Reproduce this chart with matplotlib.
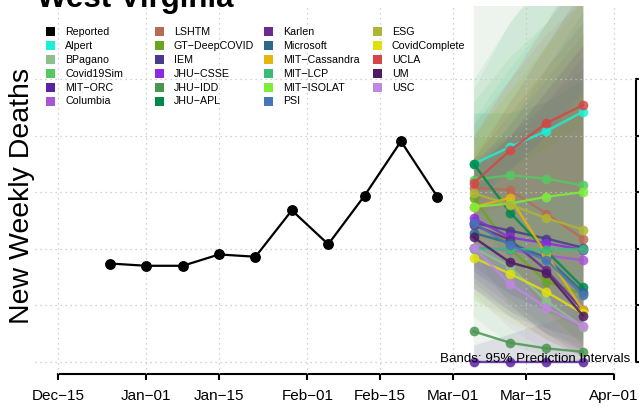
import numpy as np
import matplotlib
matplotlib.use('Agg')
import matplotlib.pyplot as plt
import matplotlib.dates as mdates
from matplotlib.patches import Rectangle

plt.rcParams['font.family'] = ['Liberation Sans', 'DejaVu Sans']

# reported weekly deaths
rep_dates = np.array(['2021-12-25', '2022-01-01', '2022-01-08', '2022-01-15', '2022-01-22',
                      '2022-01-29', '2022-02-05', '2022-02-12', '2022-02-19', '2022-02-26'],
                     dtype='datetime64[D]')
rep_vals = [87, 85, 85, 95, 93, 134, 104, 147, 195, 146]

fc_dates = np.array(['2022-03-05', '2022-03-12', '2022-03-19', '2022-03-26'], dtype='datetime64[D]')

models = ['Alpert', 'BPagano', 'Covid19Sim', 'MIT\u2212ORC', 'Columbia', 'LSHTM',
          'GT\u2212DeepCOVID', 'IEM', 'JHU\u2212CSSE', 'JHU\u2212IDD', 'JHU\u2212APL', 'Karlen',
          'Microsoft', 'MIT\u2212Cassandra', 'MIT\u2212LCP', 'MIT\u2212ISOLAT', 'PSI', 'ESG',
          'CovidComplete', 'UCLA', 'UM', 'USC']
colors = ['#1cefd8', '#8fbf8f', '#55c95f', '#5b22a0', '#a855d6', '#b96a55',
          '#6aa51e', '#483a8a', '#8a2be2', '#4a9650', '#00884a', '#6a2a8e',
          '#2a6a88', '#e6b50e', '#3cba78', '#7ded3c', '#4a74b8', '#b0b535',
          '#e0e010', '#d64545', '#4e1a66', '#c088e0']

# point forecasts (same order as models)
fc_point = [
    [175, 190, 204, 221],  # Alpert
    [101, 84, 54, 31],     # BPagano
    [161, 165, 162, 156],  # Covid19Sim
    [0, 0, 0, 0],          # MIT-ORC
    [101, 99, 94, 90],     # Columbia
    [154, 152, 131, 109],  # LSHTM
    [145, 100, 71, 60],    # GT-DeepCOVID
    [123, 116, 109, 101],  # IEM
    [127, 110, 105, 99],   # JHU-CSSE
    [27, 17, 12, 9],       # JHU-IDD
    [175, 132, 98, 66],    # JHU-APL
    [121, 108, 81, 46],    # Karlen
    [114, 105, 92, 62],    # Microsoft
    [137, 145, 95, 46],    # MIT-Cassandra
    [100, 100, 99, 100],   # MIT-LCP
    [137, 140, 146, 150],  # MIT-ISOLAT
    [123, 103, 90, 59],    # PSI
    [149, 139, 127, 117],  # ESG
    [92, 78, 62, 43],      # CovidComplete
    [158, 187, 211, 227],  # UCLA
    [110, 88, 79, 41],     # UM
    [101, 69, 48, 32],     # USC
]
# 95% interval bounds
fc_lower = [
    [150, 140, 130, 120], [40, 15, 5, 0], [115, 95, 75, 60], [0, 0, 0, 0],
    [65, 45, 30, 20], [110, 85, 60, 40], [95, 50, 25, 15], [80, 60, 45, 30],
    [85, 60, 45, 35], [0, 0, 0, 0], [135, 85, 45, 15], [75, 50, 25, 5],
    [70, 45, 25, 10], [105, 90, 40, 10], [55, 40, 30, 20], [90, 80, 70, 60],
    [80, 55, 30, 10], [110, 85, 60, 40], [55, 35, 20, 5], [130, 140, 145, 150],
    [65, 40, 20, 5], [60, 30, 10, 0],
]
fc_upper = [
    [215, 260, 300, 360], [240, 300, 340, 380], [230, 270, 300, 340], [15, 25, 35, 45],
    [150, 190, 230, 270], [210, 250, 290, 320], [200, 200, 210, 230], [180, 220, 260, 300],
    [180, 200, 230, 260], [330, 390, 420, 450], [220, 220, 230, 250], [180, 230, 280, 330],
    [170, 210, 260, 310], [185, 230, 260, 290], [250, 300, 340, 380], [200, 240, 280, 320],
    [175, 210, 250, 290], [200, 240, 280, 320], [140, 170, 200, 240], [200, 250, 300, 350],
    [170, 200, 240, 280], [150, 170, 190, 210],
]

W, H = 639, 411
fig = plt.figure(figsize=(W / 100, H / 100), dpi=100)
ax = fig.add_axes([35 / W, 37 / H, (636 - 35) / W, (374 - 6) / H])

for lo, hi, c in zip(fc_lower, fc_upper, colors):
    ax.fill_between(fc_dates, lo, hi, color=c, alpha=0.1, lw=0, zorder=1)

for pts, c in zip(fc_point, colors):
    ax.plot(fc_dates, pts, color=c, lw=1.7, alpha=0.85, marker='o', ms=7,
            mec='none', zorder=3)

ax.plot(rep_dates, rep_vals, color='black', lw=1.6, marker='o', ms=6.8, zorder=4)

x0 = np.datetime64('2021-12-15')
x1 = np.datetime64('2022-04-01')
ax.set_xlim(mdates.date2num(x0) - 4.43, mdates.date2num(x1) + 4.23)
ax.set_ylim(-10.6, 314.5)

xt = np.array(['2021-12-15', '2022-01-01', '2022-01-15', '2022-02-01', '2022-02-15',
               '2022-03-01', '2022-03-15', '2022-04-01'], dtype='datetime64[D]')
ax.set_xticks(xt)
ax.xaxis.set_major_formatter(mdates.DateFormatter('%b\u2212%d'))
ax.set_yticks([0, 50, 100, 150, 200, 250])
ax.yaxis.tick_right()
ax.tick_params(axis='x', length=4.3, width=1.5, pad=6.5, labelsize=11)
ax.tick_params(axis='y', length=4.3, width=1.5, labelright=False)

ax.grid(True, color='#c4c4c4', lw=0.9, linestyle=(0, (1, 3)))
ax.set_axisbelow(False)

for s in ['left', 'top']:
    ax.spines[s].set_visible(False)
ax.spines['bottom'].set_bounds(mdates.date2num(x0), mdates.date2num(x1))
ax.spines['right'].set_bounds(0, 250)
ax.spines['bottom'].set_linewidth(1.5)
ax.spines['right'].set_linewidth(1.5)
ax.patch.set_visible(False)

# legend, R style: 4 equal columns of 6 rows
leg_names = ['Reported'] + models
leg_cols = ['black'] + colors
for i, (name, c) in enumerate(zip(leg_names, leg_cols)):
    col, row = i // 6, i % 6
    px = 50 + 109 * col
    py = 32 + 13.9 * row
    fig.patches.append(Rectangle(((px - 4.5) / W, 1 - (py + 4.5) / H), 9 / W, 9 / H,
                                 transform=fig.transFigure, color=c, lw=0))
    fig.text((px + 15) / W, 1 - py / H, name, fontsize=7.7, va='center', ha='left')

fig.text(37 / W, 1 - 7 / H, 'West Virginia', fontsize=22.5, weight='bold',
         va='baseline', ha='left')
fig.text(22 / W, 1 - 196 / H, 'New Weekly Deaths', fontsize=20.5, rotation=90,
         va='center', ha='center')
fig.text(630 / W, 1 - 359 / H, 'Bands: 95% Prediction Intervals', fontsize=9.6,
         va='center', ha='right', zorder=10)

fig.savefig('out.png', dpi=100)
